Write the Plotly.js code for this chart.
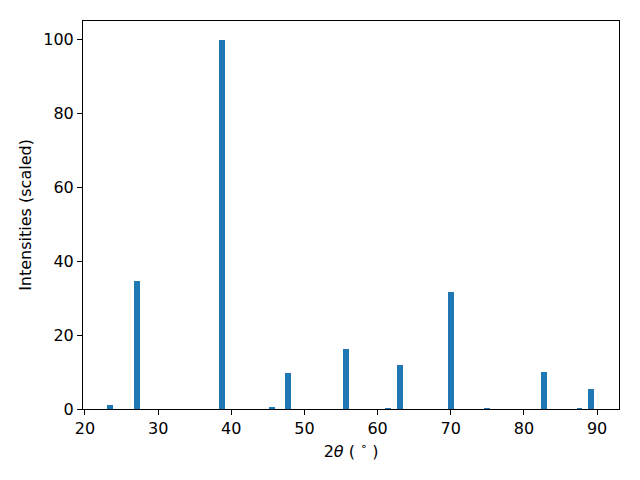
<!DOCTYPE html>
<html>
<head>
<meta charset="utf-8">
<script src="https://cdn.plot.ly/plotly-3.0.1.min.js"></script>
<style>html,body{margin:0;padding:0;background:#fff;}#chart{width:640px;height:480px;}</style>
</head>
<body>
<div id="chart"></div>
<script>
const twoTheta = [23.4, 27.1, 38.7, 45.6, 47.8, 55.7, 61.4, 63.1, 70.0, 74.9, 82.8, 87.6, 89.2];
const intensities = [1.2, 34.7, 100, 0.6, 9.8, 16.3, 0.35, 12.0, 31.7, 0.35, 10.0, 0.35, 5.4];
const barWidth = 0.8;

const trace = {
  type: 'bar',
  x: twoTheta,
  y: intensities,
  width: twoTheta.map(() => barWidth),
  marker: {color: '#1f77b4', line: {width: 0}},
  hoverinfo: 'x+y'
};

const axisCommon = {
  showgrid: false,
  zeroline: false,
  showline: true,
  mirror: true,
  linecolor: '#000',
  linewidth: 1,
  ticks: 'outside',
  ticklen: 5,
  tickwidth: 1,
  tickcolor: '#000',
  tickfont: {family: 'DejaVu Sans', size: 16, color: '#000'}
};

const layout = {
  width: 640,
  height: 480,
  paper_bgcolor: '#fff',
  plot_bgcolor: '#fff',
  margin: {l: 83, r: 21, t: 21, b: 71},
  showlegend: false,
  bargap: 0,
  xaxis: Object.assign({}, axisCommon, {
    range: [19.73, 93.0],
    tickvals: [20, 30, 40, 50, 60, 70, 80, 90],
    title: {text: '2<i>θ</i> ( <sup>∘</sup> )', font: {family: 'DejaVu Sans', size: 16, color: '#000'}, standoff: 8}
  }),
  yaxis: Object.assign({}, axisCommon, {
    range: [0, 105.1],
    tickvals: [0, 20, 40, 60, 80, 100],
    title: {text: 'Intensities (scaled)', font: {family: 'DejaVu Sans', size: 16, color: '#000'}, standoff: 7}
  })
};

Plotly.newPlot('chart', [trace], layout, {displayModeBar: false, staticPlot: true});
</script>
</body>
</html>
